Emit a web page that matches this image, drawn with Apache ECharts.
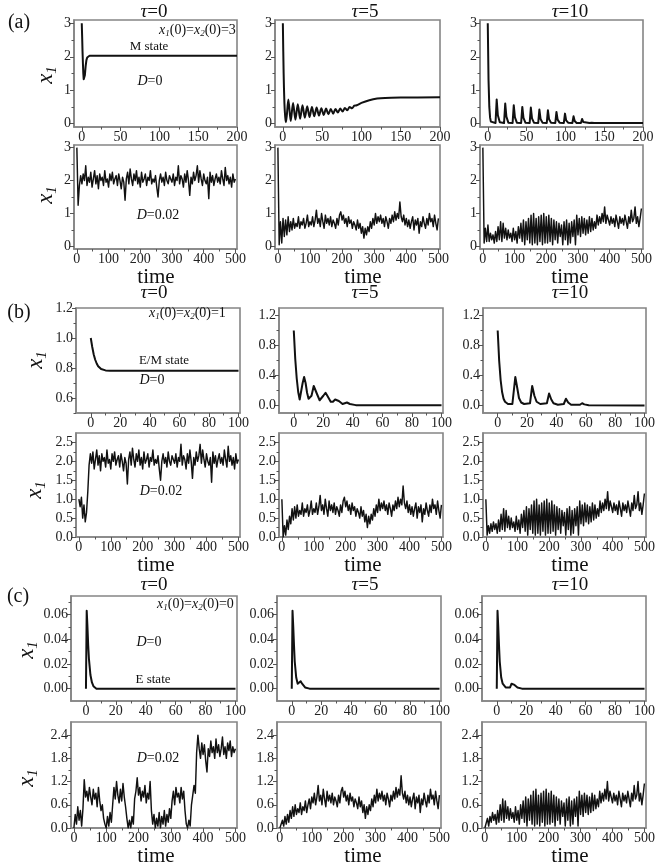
<!DOCTYPE html>
<html>
<head>
<meta charset="utf-8">
<title>x1 time series</title>
<script src="https://cdn.jsdelivr.net/npm/echarts@6/dist/echarts.min.js"></script>
<style>html,body{margin:0;padding:0;background:#fff}#chart{width:660px;height:867px}</style>
</head>
<body>
<div id="chart"></div>
<script>
// ================= DATA =================
const STEP = 4; // sampling step (time units) of the noisy traces

// tick values
const xTicks200 = [0, 50, 100, 150, 200];
const xMinor200 = [25, 75, 125, 175];
const xTicks100 = [0, 20, 40, 60, 80, 100];
const xMinor100 = [10, 30, 50, 70, 90];
const xTicks500 = [0, 100, 200, 300, 400, 500];
const xMinor500 = [50, 150, 250, 350, 450];
const yTicksA = [0, 1, 2, 3];
const yMinorA = [0.5, 1.5, 2.5];
const yTicksB0 = [0.6, 0.8, 1.0, 1.2];
const yMinorB0 = [0.5, 0.7, 0.9, 1.1];
const yTicksB1 = [0, 0.4, 0.8, 1.2];
const yMinorB1 = [0.2, 0.6, 1.0];
const yTicksB2 = [0, 0.5, 1.0, 1.5, 2.0, 2.5];
const yMinorB2 = [0.25, 0.75, 1.25, 1.75, 2.25];
const yTicksC1 = [0, 0.02, 0.04, 0.06];
const yMinorC1 = [0.01, 0.03, 0.05, 0.07];
const yTicksC2 = [0, 0.6, 1.2, 1.8, 2.4];
const yMinorC2 = [0.3, 0.9, 1.5, 2.1];

// deterministic traces (D=0): [time, x1]
const detA0 = [[0,3.0],[0.5,2.6],[1,2.15],[1.5,1.8],[2,1.5],[2.5,1.33],[3,1.28],[3.5,1.32],[4,1.45],[5,1.72],[6,1.9],[7,1.98],[8,2.02],[10,2.03],[200,2.03]];
const detA5 = [[0,3.0],[1,1.5],[2,0.6],[3,0.2],[4,0.04],[7,0.72],[10,0.08],[13,0.62],[16,0.12],[19,0.58],[22,0.15],[25,0.55],[28,0.18],[31,0.52],[34,0.2],[37,0.5],[40,0.22],[43,0.48],[46,0.24],[49,0.46],[52,0.26],[55,0.45],[58,0.28],[61,0.44],[64,0.3],[67,0.44],[70,0.33],[73,0.45],[76,0.36],[79,0.47],[82,0.4],[85,0.5],[88,0.46],[91,0.54],[94,0.55],[100,0.62],[110,0.7],[120,0.75],[130,0.77],[150,0.78],[200,0.79]];
const detA10 = [[0,3.0],[1,1.3],[2,0.5],[3,0.18],[4,0.06],[6,0.02],[10,0.02],[11.5,0.72],[13,0.25],[15.5,0.04],[21,0.02],[22.5,0.6],[24,0.21],[26.5,0.03],[32,0.02],[33.5,0.55],[35,0.19],[37.5,0.03],[43,0.02],[44.5,0.5],[46,0.17],[48.5,0.03],[54,0.02],[55.5,0.48],[57,0.16],[59.5,0.03],[65,0.02],[66.5,0.42],[68,0.14],[70.5,0.03],[76,0.02],[77.5,0.4],[79,0.13],[81.5,0.03],[87,0.02],[88.5,0.35],[90,0.12],[92.5,0.03],[98,0.02],[99.5,0.3],[101,0.1],[103.5,0.03],[109,0.02],[110.5,0.22],[112,0.08],[114.5,0.02],[120,0.02],[121.5,0.14],[123,0.05],[125.5,0.02],[131,0.02],[132.5,0.07],[134,0.03],[137,0.02],[200,0.02]];
const detB0 = [[0,1.0],[1,0.94],[2,0.89],[3,0.855],[4,0.83],[5,0.812],[6,0.8],[7,0.793],[8,0.788],[10,0.784],[13,0.782],[100,0.782]];
const detB5 = [[0,1.0],[1,0.62],[2,0.36],[3,0.18],[4,0.08],[5,0.1],[6,0.3],[7,0.38],[8,0.3],[9,0.17],[10,0.09],[11,0.07],[12,0.13],[13.5,0.26],[14.5,0.25],[16,0.14],[17.5,0.07],[18.5,0.06],[20,0.13],[21.5,0.17],[23,0.12],[25,0.05],[26.5,0.05],[28,0.08],[29,0.09],[30.5,0.06],[33,0.02],[34.5,0.03],[36,0.04],[38,0.02],[42,0.005],[100,0.003]];
const detB10 = [[0,1.0],[1,0.6],[2,0.34],[3,0.18],[4,0.09],[5,0.05],[7,0.02],[10,0.02],[11,0.2],[12,0.38],[13,0.27],[14.5,0.1],[16,0.04],[18,0.02],[22,0.03],[23.5,0.26],[25,0.13],[26.5,0.05],[29,0.02],[33.5,0.03],[35,0.16],[36.5,0.08],[38,0.03],[41,0.01],[45,0.02],[46.5,0.09],[48,0.04],[50,0.01],[56,0.01],[57.5,0.03],[59,0.015],[62,0.003],[100,0.0]];
const detC0 = [[0,0],[0.5,0.063],[1,0.05],[1.5,0.035],[2,0.024],[3,0.011],[4,0.005],[5,0.002],[7,0],[100,0]];
const detC5 = [[0,0],[0.5,0.063],[1,0.05],[1.5,0.035],[2,0.022],[3,0.009],[4,0.004],[5,0.005],[6,0.006],[7,0.004],[9,0.001],[12,0],[100,0]];
const detC10 = [[0,0],[0.5,0.063],[1,0.05],[1.5,0.035],[2,0.022],[3,0.009],[4,0.004],[6,0.001],[9,0.001],[10,0.004],[11,0.005],[12,0.003],[14,0.001],[17,0],[100,0]];

// noisy traces (D=0.02), one value every STEP time units from t=0
const noiseM = [
 2.00,1.95,1.80,2.15,1.90,2.20,2.00,2.45,1.85,2.10,
 1.95,2.25,1.80,2.05,2.30,1.90,2.15,1.75,2.20,2.00,
 2.10,1.85,2.30,1.95,2.05,1.80,2.20,2.00,2.25,1.90,
 2.05,2.15,1.85,2.20,2.00,1.75,2.10,1.95,1.40,2.05,
 2.25,1.90,2.35,2.05,1.85,2.20,2.00,2.30,1.90,2.10,
 1.80,2.25,1.95,2.05,2.20,1.85,2.10,2.00,2.30,1.90,
 2.05,1.95,2.15,1.80,1.50,2.00,2.20,1.95,2.10,1.85,
 2.25,2.00,1.90,2.15,2.05,1.95,2.20,1.85,2.10,2.00,
 2.45,1.90,2.15,2.05,1.80,2.20,1.95,2.30,2.00,1.55,
 2.10,1.90,2.25,2.00,2.15,2.45,1.95,2.30,2.05,1.85,
 2.20,2.00,1.90,2.10,1.45,2.25,1.95,2.15,1.85,2.05,
 2.20,1.95,2.10,1.90,2.30,2.05,1.85,2.40,2.00,2.15,
 1.90,2.10,1.80,2.20,1.95,2.05];
const noiseT5 = [
 0.00,0.20,0.45,0.15,0.55,0.30,0.70,0.40,0.80,0.45,
 0.75,0.50,0.85,0.55,0.70,0.60,0.90,0.55,0.75,0.65,
 0.85,0.55,0.70,0.95,0.60,0.75,0.65,0.90,0.60,0.80,
 1.10,0.70,0.85,0.60,1.00,0.75,0.55,0.95,0.70,0.85,
 0.65,0.90,0.60,0.80,0.70,0.55,0.85,0.65,0.95,1.05,
 0.80,0.95,0.70,0.85,0.60,0.90,0.70,0.80,0.55,0.75,
 0.65,0.50,0.80,0.55,0.70,0.40,0.60,0.25,0.55,0.35,
 0.60,0.45,0.75,0.55,0.85,0.65,1.00,0.70,0.90,0.75,
 0.95,0.70,0.85,0.60,0.90,0.75,0.55,0.85,0.70,0.95,
 0.75,1.05,0.80,1.00,0.85,1.35,0.90,0.75,0.95,0.65,
 0.85,0.60,0.80,0.55,0.75,0.90,0.50,0.80,0.65,0.85,
 0.40,0.75,0.60,0.90,0.70,0.55,0.85,0.65,1.00,0.75,
 0.85,0.60,0.95,0.70,0.50,0.85];
const noiseT10 = [
 0.00,0.15,0.30,0.10,0.35,0.15,0.40,0.20,0.35,0.10,
 0.45,0.15,0.60,0.20,0.75,0.15,0.70,0.25,0.55,0.20,
 0.50,0.25,0.40,0.15,0.55,0.20,0.45,0.10,0.60,0.25,
 0.70,0.15,0.80,0.05,0.75,0.20,0.85,0.10,0.95,0.05,
 1.00,0.10,0.85,0.05,0.90,0.15,0.95,0.05,1.00,0.10,
 0.90,0.10,0.95,0.15,0.85,0.05,0.80,0.20,0.75,0.10,
 0.70,0.30,0.65,0.05,0.75,0.20,0.80,0.05,0.70,0.10,
 0.75,0.30,0.80,0.05,0.95,0.35,0.85,0.30,0.90,0.40,
 0.85,0.35,0.80,0.40,0.90,0.45,0.85,0.50,0.75,0.55,
 0.95,0.65,0.90,0.70,1.00,0.75,1.20,0.70,0.95,0.80,
 0.65,0.90,0.70,0.85,0.60,0.95,0.75,0.55,0.90,0.70,
 0.85,0.65,0.95,0.75,0.55,0.90,0.70,1.10,0.75,0.85,
 1.20,0.70,0.90,0.60,0.85,1.15];
const noiseC0 = [
 0.00,0.35,0.10,0.55,0.20,0.45,0.05,0.50,1.25,0.80,
 0.95,0.70,1.05,0.80,0.60,1.00,0.75,0.90,0.55,1.05,
 0.70,0.45,0.60,0.25,0.10,0.00,0.30,0.05,0.40,0.15,
 0.60,1.05,0.75,1.20,0.85,0.65,1.00,0.70,1.15,0.80,
 0.55,0.25,0.00,0.20,0.00,0.30,0.10,0.75,0.95,1.30,
 0.85,1.05,0.70,0.95,0.80,1.10,0.65,0.90,0.75,1.20,
 0.45,0.10,0.35,0.00,0.25,0.05,0.40,0.00,0.30,0.10,
 0.45,0.05,0.35,0.15,0.50,0.25,0.70,0.95,0.60,1.05,
 0.80,0.90,0.65,1.05,0.75,0.95,0.45,0.10,0.00,0.20,
 0.05,0.60,0.85,1.10,0.90,1.95,2.40,2.05,1.80,2.20,
 1.90,2.15,1.75,1.45,2.05,1.85,2.25,1.95,2.10,1.80,
 2.30,1.95,2.15,1.85,2.05,2.35,1.90,2.10,1.80,2.20,
 2.00,2.25,1.85,2.10,1.95,2.05];
// starting segments that differ between panels sharing a noise realisation
const headA0 = [3.0, 1.25, 1.85];
const headB0 = [1.0, 0.8, 1.05, 0.5, 0.85, 0.4, 0.65, 1.2, 1.9, 2.2];
const headA5 = [3.0, 0.05, 0.75, 0.1, 0.85, 0.3, 0.8, 0.35, 0.9, 0.45, 0.75];
const headB5 = [1.0, 0.0, 0.3, 0.05, 0.45, 0.2, 0.55, 0.35, 0.75, 0.45, 0.8];
const headC5 = [0.0,0.05,0.2,0.05,0.3,0.1,0.35,0.15,0.45,0.25,0.55,0.3,0.6,0.35,0.5,0.4,0.65,0.35,0.55,0.45,0.7,0.4,0.6,0.75,0.5,0.8];
const headA10 = [3.0, 0.1, 0.55, 0.15, 0.65];
const headB10 = [1.0, 0.05, 0.3, 0.1, 0.35];
const headC10 = [0.0, 0.05, 0.25, 0.05, 0.3];

// ================= BUILD =================
const SERIF = '"Liberation Serif","Times New Roman",serif';
const FRAME = '#858585';
const INK = '#111';

function joinHead(head, base) { return head.concat(base.slice(head.length)); }
function sampled(vals) { return vals.map((v, i) => [i * STEP, v]); }

const ROWS = [[20,127],[145,249],[308,413],[433,537],[596,701],[722,828]];
const COLS = {
  a: [[74,237],[275,440],[480,643]],
  b: [[76,240],[279,443],[483,646]],
  c: [[71,237],[277,441],[482,646]]
};
const X200 = {r:[-10,200], t:xTicks200, m:xMinor200};
const X100 = {r:[-10,101], t:xTicks100, m:xMinor100};
const X500 = {r:[-9,505], t:xTicks500, m:xMinor500};
const YA1 = {r:[-0.1,3.1], t:yTicksA, m:yMinorA, d:0};
const YA2 = {r:[-0.08,3.08], t:yTicksA, m:yMinorA, d:0};
const YB0 = {r:[0.5,1.2], t:yTicksB0, m:yMinorB0, d:1};
const YB1 = {r:[-0.1,1.3], t:yTicksB1, m:yMinorB1, d:1};
const YB2 = {r:[0,2.75], t:yTicksB2, m:yMinorB2, d:1};
const YC1 = {r:[-0.01,0.075], t:yTicksC1, m:yMinorC1, d:2};
const YC2 = {r:[0,2.74], t:yTicksC2, m:yMinorC2, d:1};

const DET = 2.0, NOI = 1.45;
const panels = [
  {g:'a',row:0,col:0,data:detA0,X:X200,Y:YA1,lw:DET},
  {g:'a',row:0,col:1,data:detA5,X:X200,Y:YA1,lw:DET,smooth:0.3},
  {g:'a',row:0,col:2,data:detA10,X:X200,Y:YA1,lw:DET},
  {g:'a',row:1,col:0,data:sampled(joinHead(headA0,noiseM)),X:X500,Y:YA2,lw:NOI},
  {g:'a',row:1,col:1,data:sampled(joinHead(headA5,noiseT5)),X:X500,Y:YA2,lw:NOI},
  {g:'a',row:1,col:2,data:sampled(joinHead(headA10,noiseT10)),X:X500,Y:YA2,lw:NOI},
  {g:'b',row:2,col:0,data:detB0,X:X100,Y:YB0,lw:DET},
  {g:'b',row:2,col:1,data:detB5,X:X100,Y:YB1,lw:DET},
  {g:'b',row:2,col:2,data:detB10,X:X100,Y:YB1,lw:DET},
  {g:'b',row:3,col:0,data:sampled(joinHead(headB0,noiseM)),X:X500,Y:YB2,lw:NOI},
  {g:'b',row:3,col:1,data:sampled(joinHead(headB5,noiseT5)),X:X500,Y:YB2,lw:NOI},
  {g:'b',row:3,col:2,data:sampled(joinHead(headB10,noiseT10)),X:X500,Y:YB2,lw:NOI},
  {g:'c',row:4,col:0,data:detC0,X:X100,Y:YC1,lw:DET},
  {g:'c',row:4,col:1,data:detC5,X:X100,Y:YC1,lw:DET},
  {g:'c',row:4,col:2,data:detC10,X:X100,Y:YC1,lw:DET},
  {g:'c',row:5,col:0,data:sampled(noiseC0),X:X500,Y:YC2,lw:NOI},
  {g:'c',row:5,col:1,data:sampled(joinHead(headC5,noiseT5)),X:X500,Y:YC2,lw:NOI},
  {g:'c',row:5,col:2,data:sampled(joinHead(headC10,noiseT10)),X:X500,Y:YC2,lw:NOI}
];

function mkAxis(k, A, isY, major, dec) {
  return {
    type: 'value', gridIndex: k, min: A.r[0], max: A.r[1],
    position: isY ? 'left' : 'bottom', offset: 0,
    axisLine: {show: major, onZero: false, lineStyle: {color: FRAME, width: 1.6}},
    axisTick: {show: true, inside: false, length: major ? 4 : 2.5,
               customValues: major ? A.t : A.m, lineStyle: {color: '#555', width: 1}},
    axisLabel: {show: major, customValues: A.t, hideOverlap: false,
                formatter: v => Number(v).toFixed(dec),
                color: '#222', fontFamily: SERIF, fontSize: 14, margin: 3},
    splitLine: {show: false}, minorTick: {show: false}, silent: true
  };
}

const grids = [], xAxes = [], yAxes = [], series = [];
panels.forEach((p, k) => {
  const [l, r] = COLS[p.g][p.col];
  const [t, b] = ROWS[p.row];
  grids.push({left: l, top: t, width: r - l, height: b - t, show: true,
              borderColor: FRAME, borderWidth: 1.6, backgroundColor: 'transparent',
              containLabel: false, outerBoundsMode: 'none'});
  const xi = xAxes.length, yi = yAxes.length;
  xAxes.push(mkAxis(k, p.X, false, true, 0));
  xAxes.push(mkAxis(k, p.X, false, false, 0));
  yAxes.push(mkAxis(k, p.Y, true, true, p.Y.d));
  yAxes.push(mkAxis(k, p.Y, true, false, p.Y.d));
  series.push({type: 'line', xAxisIndex: xi, yAxisIndex: yi, data: p.data,
               showSymbol: false, symbol: 'none', smooth: p.smooth || false,
               lineStyle: {color: INK, width: p.lw, join: 'round'},
               animation: false, silent: true, z: 3});
});

// ---------- texts ----------
function rich(size) {
  return {
    i: {fontFamily: SERIF, fontSize: size, fontStyle: 'italic', fill: INK, lineHeight: Math.round(size * 1.2)},
    n: {fontFamily: SERIF, fontSize: size, fill: INK, lineHeight: Math.round(size * 1.2)},
    s: {fontFamily: SERIF, fontSize: Math.round(size * 0.65), fontStyle: 'italic', fill: INK,
        lineHeight: Math.round(size * 0.65), verticalAlign: 'bottom'}
  };
}
function T(x, y, text, size, align, rot) {
  return {type: 'text', x: x, y: y, rotation: rot || 0, silent: true, z: 10,
          style: {text: text, rich: rich(size), fontFamily: SERIF, fontSize: size, fill: INK,
                  align: align || 'center', verticalAlign: 'middle'}};
}
const gfx = [];
const titleY = {a: 12, b: 293, c: 585};
['a','b','c'].forEach(g => {
  gfx.push(T(154, titleY[g], '{i|τ}{n|=0}', 19));
  gfx.push(T(365, titleY[g], '{i|τ}{n|=5}', 19));
  gfx.push(T(570, titleY[g], '{i|τ}{n|=10}', 19));
});
gfx.push(T(19, 23, '{n|(a)}', 20));
gfx.push(T(19, 313, '{n|(b)}', 20));
gfx.push(T(18, 597, '{n|(c)}', 20));
[[46,75],[46,195],[36,360],[35,490],[27,650],[27,778]].forEach(([x, y]) =>
  gfx.push(T(x, y, '{i|x}{s|1}', 23, 'center', Math.PI / 2)));
[277, 565, 856].forEach(y => [156, 363, 570].forEach(x => gfx.push(T(x, y, '{n|time}', 21))));
gfx.push(T(159, 30, '{i|x}{s|1}{n|(0)=}{i|x}{s|2}{n|(0)=3}', 14, 'left'));
gfx.push(T(149, 47, '{n|M state}', 13));
gfx.push(T(150, 81, '{i|D}{n|=0}', 14));
gfx.push(T(158, 215, '{i|D}{n|=0.02}', 14));
gfx.push(T(149, 313, '{i|x}{s|1}{n|(0)=}{i|x}{s|2}{n|(0)=1}', 14, 'left'));
gfx.push(T(164, 361, '{n|E/M state}', 13));
gfx.push(T(152, 380, '{i|D}{n|=0}', 14));
gfx.push(T(161, 491, '{i|D}{n|=0.02}', 14));
gfx.push(T(157, 604, '{i|x}{s|1}{n|(0)=}{i|x}{s|2}{n|(0)=0}', 14, 'left'));
gfx.push(T(149, 642, '{i|D}{n|=0}', 14));
gfx.push(T(153, 680, '{n|E state}', 13));
gfx.push(T(158, 758, '{i|D}{n|=0.02}', 14));

const chart = echarts.init(document.getElementById('chart'), null, {renderer: 'canvas', width: 660, height: 867});
chart.setOption({
  backgroundColor: '#fff',
  animation: false,
  grid: grids, xAxis: xAxes, yAxis: yAxes, series: series,
  graphic: {elements: gfx}
});
</script>
</body>
</html>
